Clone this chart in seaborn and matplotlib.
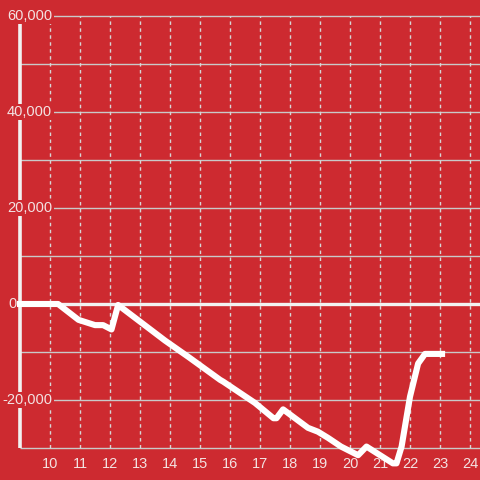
import matplotlib
matplotlib.use("Agg")
import matplotlib.pyplot as plt
import pandas as pd
import seaborn as sns

# ── Data ───────────────────────────────────────────────────────────────────
hours = [8.9, 10.27, 10.95, 11.5, 11.77, 12.05, 12.27, 13.83, 14.63, 15.67,
         15.78, 16.83, 17.45, 17.55, 17.77, 18.6, 18.93, 19.27, 19.7, 20.27,
         20.55, 21.43, 21.55, 21.72, 22.0, 22.27, 22.5, 23.17]
values = [0, 0, -3300, -4400, -4400, -5300, -200, -7600, -11100, -15800,
          -16200, -20600, -23800, -23800, -21950, -25800, -26600, -27900,
          -29700, -31500, -29700, -33200, -33200, -29700, -19300, -12400,
          -10400, -10400]

y_ticks = [60000, 40000, 20000, 0, -20000]
y_labels = ["60,000", "40,000", "20,000", "0", "-20,000"]
y_grid = [60000, 50000, 40000, 30000, 20000, 10000, -10000, -20000, -30000]
x_ticks = list(range(10, 25))

BG = "#CD2A30"
TXT = "#F3E2E2"
df = pd.DataFrame({"hour": hours, "value": values})

sns.set_style("white")
plt.rcParams["font.family"] = ["Liberation Sans", "DejaVu Sans"]

fig = plt.figure(figsize=(4.8, 4.8), dpi=100, facecolor=BG)
ax = fig.add_axes([0, 0, 1, 1], facecolor=BG)
ax.set_xlim(8.3333, 24.3333)
ax.set_ylim(-36667, 63333)
ax.axis("off")

# grid
ax.hlines(y_grid, 9, 24.3333, color="#C9C9C9", lw=1.0, zorder=1)
ax.vlines(x_ticks, -30000, 60000, color="#D6D6D6", lw=1.0,
          linestyles=(0, (2.5, 2.5)), zorder=1)
ax.hlines(0, 9, 24.3333, color="#F2F2F2", lw=2.4, zorder=2)
ax.vlines(9, -30000, 60000, color="#F2F2F2", lw=2.6, zorder=2)

# tick labels
for v, lab in zip(y_ticks, y_labels):
    if v == 0:
        ax.text(8.6, v, lab, ha="left", va="center", fontsize=10.5, color=TXT, zorder=3)
    else:
        ax.text(10.07, v, lab, ha="right", va="center", fontsize=10.5, color=TXT,
                zorder=3, bbox=dict(boxstyle="square,pad=0.1", fc=BG, ec="none"))
for h in x_ticks:
    ax.text(h, -33300, str(h), ha="center", va="center", fontsize=10.5,
            color=TXT, zorder=3)

sns.lineplot(data=df, x="hour", y="value", ax=ax, color="white", lw=4.4,
             zorder=4, sort=False)
for ln in ax.lines:
    ln.set_solid_joinstyle("round")
    ln.set_solid_capstyle("butt")

fig.savefig("out.png", dpi=100, facecolor=BG)
